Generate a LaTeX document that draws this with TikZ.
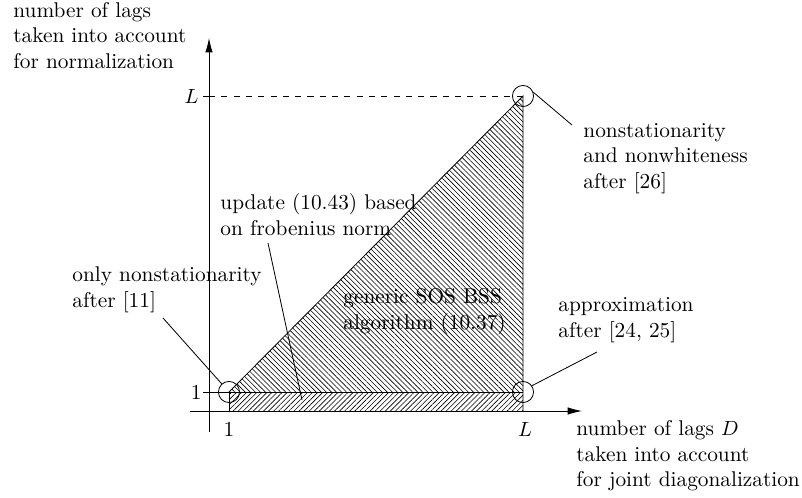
\documentclass[tikz,border=0pt]{standalone}
\usetikzlibrary{patterns.meta,arrows.meta}
\begin{document}
\begin{tikzpicture}[x=0.4878pt,y=-0.4878pt,
  lbl/.style={anchor=base west, align=left, inner sep=0pt, font=\fontsize{10.4}{12.2}\selectfont},
  ax/.style={inner sep=0pt, font=\fontsize{10.4}{12.2}\selectfont},
  circ/.style={draw, circle, minimum size=10.3pt, inner sep=0pt},
  hatchA/.style={pattern={Lines[angle=-45,distance=1.75pt,line width=0.3pt]}},
  hatchB/.style={pattern={Lines[angle=45,distance=1.75pt,line width=0.3pt]}},
  axarrow/.style={-{Latex[length=7pt,width=3.6pt]}},
  leader/.style={draw, line width=0.4pt}]
\useasboundingbox (0,0) rectangle (802,497);
% hatched regions
\fill[hatchA] (229,392) -- (523,96) -- (523,392) -- cycle;
\fill[hatchB] (229,392) rectangle (523,411);
\draw (229,392) -- (523,96) -- (523,411);
\draw (203,392) -- (523,392);
\draw (229,392) -- (229,411);
% axes
\draw[axarrow] (190,411) -- (582,411);
\draw[axarrow] (209,432) -- (209,38);
\draw (203,96) -- (209,96);
\draw[dashed] (209,96) -- (523,96);
% axis labels
\node[ax, anchor=east] (yL) at (199,96) {$L$};
\node[ax, anchor=east] (y1) at (202,392) {1};
\node[ax, anchor=north] (x1) at (229,422) {1};
\node[ax, anchor=north] (xL) at (525,422) {$L$};
% circles
\node[circ] (p1) at (229,392) {};
\node[circ] (pL) at (523,96) {};
\node[circ] (p2) at (523,392) {};
% texts (base anchor = baseline of last line)
\node[lbl] (ylab) at (13,68) {number of lags\\taken into account\\for normalization};
\node[lbl] (xlab) at (576,486) {number of lags $D$\\taken into account\\for joint diagonalization};
\node[lbl] (tNW) at (583,188) {nonstationarity\\and nonwhiteness\\after [26]};
\node[lbl] (tNS) at (72,307) {only nonstationarity\\after [11]};
\node[lbl] (tUP) at (220,235) {update (10.43) based\\on frobenius norm};
\node[lbl] (tGS) at (343,329) {generic SOS BSS\\algorithm (10.37)};
\node[lbl] (tAP) at (558,337) {approximation\\after [24, 25]};
% leaders
\coordinate (cNW) at (572,125);
\coordinate (cNS) at (163,318);
\coordinate (cUPa) at (268,243);
\coordinate (cUPb) at (302,400);
\coordinate (cAP) at (597,352);
\draw[leader] (cNW) -- (pL.20);
\draw[leader] (cNS) -- (p1);
\draw[leader] (cUPa) -- (cUPb);
\draw[leader] (cAP) -- (p2.35);
\end{tikzpicture}
\end{document}
